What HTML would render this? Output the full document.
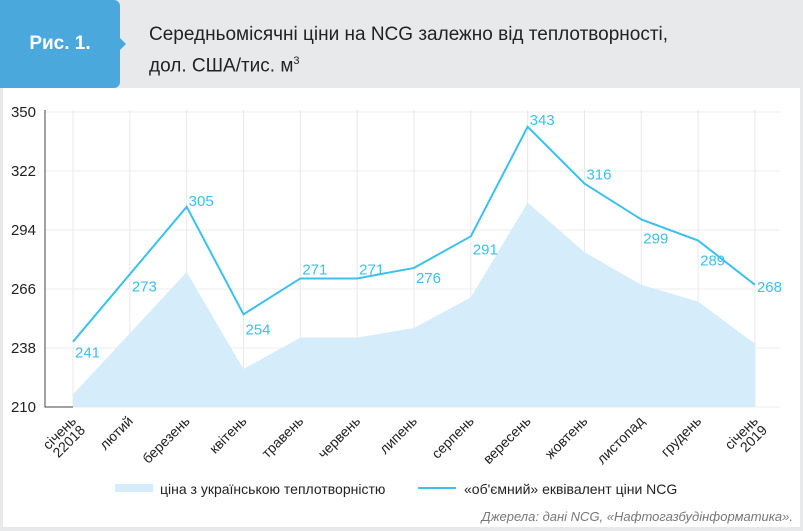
<!DOCTYPE html>
<html><head><meta charset="utf-8"><style>
body{margin:0;width:803px;height:531px;background:#e8e9eb;font-family:"Liberation Sans",sans-serif;overflow:hidden;position:relative}
#panel{position:absolute;left:3px;top:88px;width:797px;height:439px;background:#fff}
#badge{position:absolute;left:0;top:0;width:120px;height:88px;background:#4ba8dc;border-radius:0 6px 6px 0;color:#fff;font-weight:bold;font-size:19px;line-height:88px;text-align:center}
#badge:after{content:"";position:absolute;right:-6px;top:38px;border-left:6px solid #4ba8dc;border-top:6px solid transparent;border-bottom:6px solid transparent}
#title{position:absolute;left:149px;top:22px;font-size:19px;color:#222;line-height:26px}
#src{position:absolute;right:10px;top:509px;font-size:13px;font-style:italic;color:#777}
</style></head><body>
<div id="badge">Рис. 1.</div>
<div id="title">Середньомісячні ціни на NCG залежно від теплотворності,<br>дол. США/тис. м<sup style="font-size:11px">3</sup></div>
<div id="panel"></div>
<svg id="chart" width="803" height="531" style="position:absolute;left:0;top:0"></svg>
<div id="src">Джерела: дані NCG, «Нафтогазбудінформатика».</div>
<script>
const categories=["січень\n22018","лютий","березень","квітень","травень","червень","липень","серпень","вересень","жовтень","листопад","грудень","січень\n2019"];
const areaValues=[216,245,274,228,243,243,247.5,262,307,283.5,268,260,240];
const lineValues=[241,273,305,254,271,271,276,291,343,316,299,289,268];
const yTicks=[350,322,294,266,238,210];
const labelDy=[11,12,-6,15,-9,-9,10,13,-7,-9,19,20,2];
const svg=document.getElementById('chart');const NS="http://www.w3.org/2000/svg";
const x=i=>73+i*56.83;const y=v=>407-(v-210)*295/140;
function mk(t,a){const e=document.createElementNS(NS,t);for(const k in a)e.setAttribute(k,a[k]);svg.appendChild(e);return e;}
categories.forEach((c,i)=>{const g=mk('line',{x1:x(i),x2:x(i),y1:110,y2:407,stroke:'#e8e8e8'});
});
yTicks.forEach(t=>{const g=mk('line',{x1:45,x2:780,y1:y(t),y2:y(t),stroke:'#ececec'});
});
let d='M'+x(0)+','+y(210);areaValues.forEach((v,i)=>d+=' L'+x(i)+','+y(v));d+=' L'+x(12)+','+y(210)+'Z';
const ar=mk('path',{d:d,fill:'#d5ecfa'});
const ax=mk('path',{d:'M45,110 V407 H73',stroke:'#444',fill:'none','stroke-width':1});
yTicks.forEach(t=>{const e=mk('text',{x:36,y:y(t)+5,'text-anchor':'end','font-size':15,fill:'#222'});e.textContent=t;
});
const ln=mk('polyline',{points:lineValues.map((v,i)=>x(i)+','+y(v)).join(' '),fill:'none',stroke:'#3cc0ec','stroke-width':2});

lineValues.forEach((v,i)=>{
const e=mk('text',{x:x(i)+2,y:y(v)+labelDy[i]+5,'text-anchor':'start','font-size':15,fill:'#3cc0ec'});e.textContent=v;
});
categories.forEach((c,i)=>{const parts=c.split('\n');parts.forEach((p,j)=>{
const tx=x(i)+4+j*9,ty=422+j*9;const e=mk('text',{x:tx,y:ty,'text-anchor':'end','font-size':14,fill:'#222',transform:`rotate(-45 ${tx} ${ty})`});
e.textContent=p;});});
const l1=mk('rect',{x:115,y:484,width:38,height:8,fill:'#d5ecfa'});
const t1=mk('text',{x:160,y:494,'font-size':14,fill:'#222'});t1.textContent='ціна з українською теплотворністю';
const l2=mk('line',{x1:418,x2:456,y1:488,y2:488,stroke:'#3cc0ec','stroke-width':2});
const t2=mk('text',{x:464,y:494,'font-size':14,fill:'#222'});t2.textContent='«об\'ємний» еквівалент ціни NCG';
</script>
</body></html>
